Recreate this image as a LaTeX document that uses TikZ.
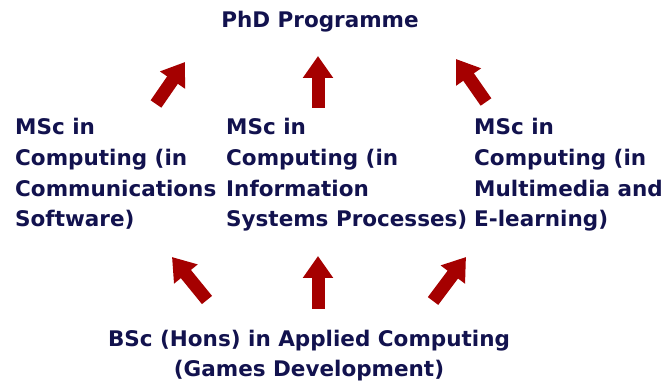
\documentclass[tikz,border=0pt]{standalone}
\usepackage{fontspec}
\setmainfont{DejaVu Sans}
\usetikzlibrary{arrows.meta}
\definecolor{navy}{HTML}{12124E}
\definecolor{arrowred}{HTML}{A50000}
\begin{document}
\begin{tikzpicture}[x=1pt,y=-1pt,
  txt/.style={text=navy,font=\bfseries\fontsize{21.5}{30.7}\selectfont,inner sep=0pt,align=left},
  blockarrow/.style={draw=arrowred,line width=13pt,-{Triangle[width=29pt,length=22pt]}}]
\useasboundingbox[fill=white] (0,0) rectangle (662,382);
\node[txt,anchor=base] (phd) at (320,28) {PhD Programme};
\node[txt,anchor=base west] (m1) at (15,227) {MSc in\\Computing (in\\Communications\\Software)};
\node[txt,anchor=base west] (m2) at (226,227) {MSc in\\Computing (in\\Information\\Systems Processes)};
\node[txt,anchor=base west] (m3) at (474,227) {MSc in\\Computing (in\\Multimedia and\\E-learning)};
\node[txt,anchor=base,align=center] (bsc) at (309,377) {BSc (Hons) in Applied Computing\\(Games Development)};
% top arrows
\coordinate (t1s) at (156,104); \coordinate (t1e) at (185,62);
\coordinate (t2s) at (318,108); \coordinate (t2e) at (318,56);
\coordinate (t3s) at (486,102); \coordinate (t3e) at (456,59);
\draw[blockarrow] (t1s) -- (t1e);
\draw[blockarrow] (t2s) -- (t2e);
\draw[blockarrow] (t3s) -- (t3e);
% bottom arrows
\coordinate (b1s) at (207,300); \coordinate (b1e) at (172,257);
\coordinate (b2s) at (318,309); \coordinate (b2e) at (318,256);
\coordinate (b3s) at (433,301); \coordinate (b3e) at (466,257);
\draw[blockarrow] (b1s) -- (b1e);
\draw[blockarrow] (b2s) -- (b2e);
\draw[blockarrow] (b3s) -- (b3e);
\end{tikzpicture}
\end{document}
